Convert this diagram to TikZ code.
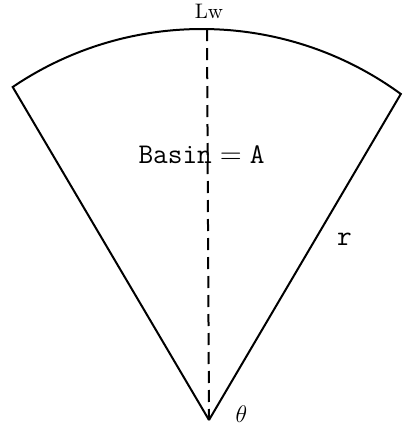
\documentclass[tikz,border=0pt]{standalone}
\begin{document}
\begin{tikzpicture}[x=0.5pt,y=-0.5pt,
  edge/.style={line width=1pt,line join=miter},
  axis/.style={line width=1pt,dash pattern=on 6pt off 3.5pt},
  bigtt/.style={font=\fontsize{14.25}{16}\selectfont\ttfamily,inner sep=0pt},
  lwlabel/.style={font=\fontsize{10.5}{12}\selectfont,inner sep=0pt},
  anglabel/.style={font=\fontsize{12}{14}\selectfont,inner sep=0pt}]
\path[use as bounding box] (0,0) rectangle (403,424);
\coordinate (apex) at (209,420);
\coordinate (left) at (12.7,87);
\coordinate (right) at (401,94);
\coordinate (top) at (207,29);
\draw[edge] (apex) -- (left) arc[start angle=-124.1,end angle=-53.84,radius=337.3] -- (apex);
\draw[axis] (top) -- (apex);
\node[lwlabel] (lw) at (209,11) {Lw};
\node[bigtt] (basin) at (201.5,154.5) {Basin${}={}$A};
\node[bigtt] (r) at (344.5,239) {r};
\node[anglabel] (theta) at (241.5,414) {$\theta$};
\end{tikzpicture}
\end{document}
